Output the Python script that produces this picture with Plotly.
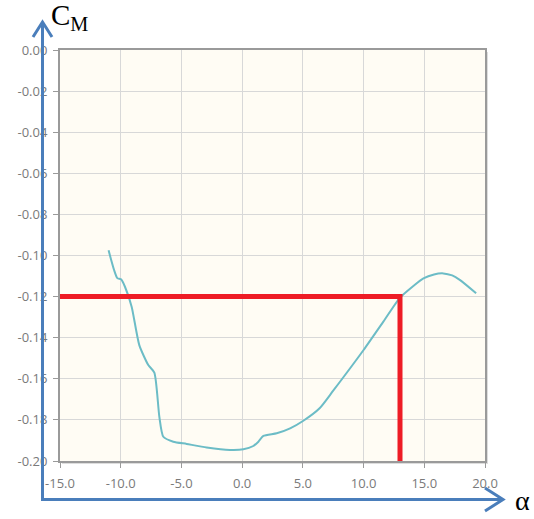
import plotly.graph_objects as go

# Data
alpha = [-11.0, -10.55, -10.28, -9.97, -9.65, -9.1, -8.47, -7.73, -7.23, -6.82, -6.49,
         -5.67, -4.57, -2.92, -1.0, 0.1, 0.92, 1.34, 1.75, 2.85, 3.95, 5.04, 6.4, 7.5,
         10.0, 11.63, 13.0, 14.1, 14.93, 15.8, 16.57, 17.3, 17.95, 19.27]
cm = [-0.0975, -0.107, -0.111, -0.1116, -0.1152, -0.1249, -0.1436, -0.1533, -0.157, -0.1784, -0.1882,
      -0.1906, -0.1917, -0.1934, -0.1946, -0.1943, -0.1927, -0.1906, -0.1878, -0.1865, -0.1841, -0.1804, -0.1742, -0.1658,
      -0.146, -0.1322, -0.1205, -0.1148, -0.1111, -0.1092, -0.1087, -0.1097, -0.112, -0.1184]

marker_alpha = 13.0
marker_cm = -0.12

x_ticks = [-15, -10, -5, 0, 5, 10, 15, 20]
x_ticklabels = ["-15.0", "-10.0", "-5.0", "0.0", "5.0", "10.0", "15.0", "20.0"]
y_ticks = [0.0, -0.02, -0.04, -0.06, -0.08, -0.10, -0.12, -0.14, -0.16, -0.18, -0.20]
y_ticklabels = ["0.00", "-0.02", "-0.04", "-0.06", "-0.08", "-0.10", "-0.12", "-0.14", "-0.16", "-0.18", "-0.20"]

W, H = 534, 519
L, R, T, B = 60, 49, 50, 58
PW, PH = W - L - R, H - T - B


def px(x):
    return (x - L) / PW


def py(y):
    return (H - B - y) / PH


fig = go.Figure()
fig.add_trace(go.Scatter(x=alpha, y=cm, mode="lines",
                         line=dict(color="#6cbcc6", width=2, shape="spline", smoothing=0.6),
                         hoverinfo="skip"))
fig.add_trace(go.Scatter(x=[-15, marker_alpha, marker_alpha], y=[marker_cm, marker_cm, -0.2],
                         mode="lines", line=dict(color="#ee1c25", width=5), hoverinfo="skip"))

blue = "#4a7ebb"
shapes = [
    # frame shadow
    dict(type="line", xref="paper", yref="paper", x0=px(62), x1=px(488), y0=py(463), y1=py(463),
         line=dict(color="#dddddd", width=2), layer="below"),
    dict(type="line", xref="paper", yref="paper", x0=px(487), x1=px(487), y0=py(52), y1=py(463),
         line=dict(color="#dddddd", width=2), layer="below"),
    # axis arrows
    dict(type="line", xref="paper", yref="paper", x0=px(42.5), x1=px(42.5), y0=py(499.5), y1=py(22),
         line=dict(color=blue, width=3)),
    dict(type="line", xref="paper", yref="paper", x0=px(41), x1=px(503), y0=py(499.5), y1=py(499.5),
         line=dict(color=blue, width=3)),
    dict(type="path", xref="paper", yref="paper",
         path=f"M {px(33)},{py(37)} L {px(42.5)},{py(22)} L {px(52)},{py(37)}",
         line=dict(color=blue, width=3)),
    dict(type="path", xref="paper", yref="paper",
         path=f"M {px(485)},{py(488)} L {px(503)},{py(499.5)} L {px(485)},{py(511)}",
         line=dict(color=blue, width=3)),
]

annotations = [
    dict(text="C<sub>M</sub>", xref="paper", yref="paper", x=px(69), y=py(17),
         xanchor="center", yanchor="middle", showarrow=False,
         font=dict(family="Liberation Serif", size=29, color="black")),
    dict(text="α", xref="paper", yref="paper", x=px(522), y=py(500),
         xanchor="center", yanchor="middle", showarrow=False,
         font=dict(family="Liberation Serif", size=28, color="black")),
]

axis_font = dict(family="Open Sans", size=13, color="#7a7a7a")
fig.update_layout(
    width=W, height=H,
    margin=dict(l=L, r=R, t=T, b=B),
    paper_bgcolor="white",
    plot_bgcolor="#fffcf4",
    showlegend=False,
    shapes=shapes,
    annotations=annotations,
    xaxis=dict(range=[-15, 20], tickvals=x_ticks, ticktext=x_ticklabels,
               showgrid=True, gridcolor="#d8d8d8", gridwidth=1,
               showline=True, linecolor="#9a9a9a", linewidth=2, mirror=True,
               ticks="outside", ticklen=5, tickcolor="#9a9a9a", ticklabelstandoff=4,
               zeroline=False, tickfont=axis_font),
    yaxis=dict(range=[-0.2, 0.0], tickvals=y_ticks, ticktext=y_ticklabels,
               showgrid=True, gridcolor="#d8d8d8", gridwidth=1,
               showline=True, linecolor="#9a9a9a", linewidth=2, mirror=True,
               ticks="outside", ticklen=5, tickcolor="#9a9a9a", ticklabelstandoff=3,
               zeroline=False, tickfont=axis_font),
)

fig.write_html("out.html", config={"displayModeBar": False},
               post_script="document.body.style.margin='0px';document.body.style.overflow='hidden';")
